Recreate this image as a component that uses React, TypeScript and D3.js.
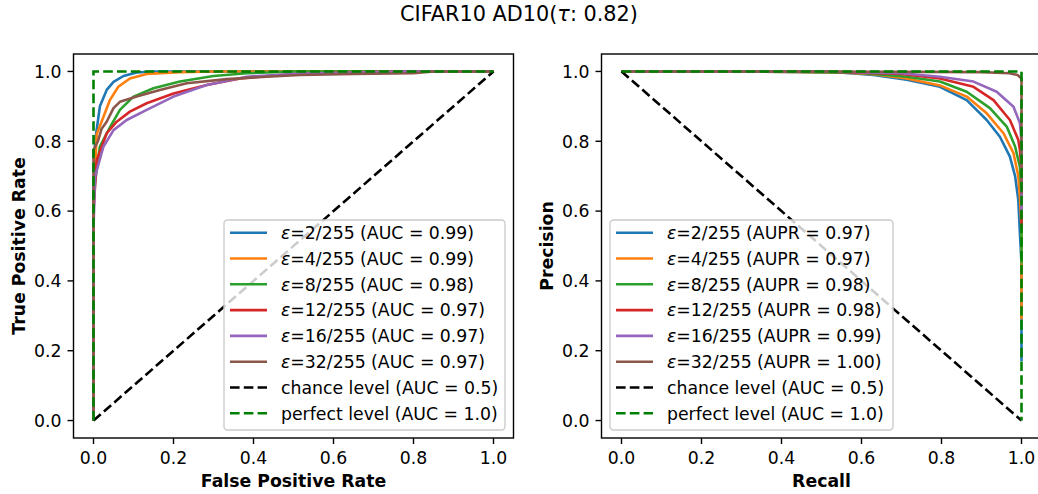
import React from "react";
import * as d3 from "d3";

const title = "CIFAR10 AD10(";
const titleTau = "τ";
const titleEnd = ": 0.82)";

const epsLabels = ["2/255", "4/255", "8/255", "12/255", "16/255", "32/255"];
const colors = ["#1f77b4", "#ff7f0e", "#2ca02c", "#d62728", "#9467bd", "#8c564b"];
const aucValues = ["0.99", "0.99", "0.98", "0.97", "0.97", "0.97"];
const auprValues = ["0.97", "0.97", "0.98", "0.98", "0.99", "1.00"];

const ticks = [0, 0.2, 0.4, 0.6, 0.8, 1.0];

// ROC curves
const rocFpr: number[][] = [
  [0, 0, 0.004, 0.016, 0.033, 0.05, 0.075, 0.108, 0.15, 0.3, 1],
  [0, 0, 0.008, 0.025, 0.041, 0.062, 0.091, 0.133, 0.216, 0.3, 1],
  [0, 0, 0.016, 0.041, 0.066, 0.1, 0.15, 0.216, 0.3, 0.383, 0.5, 1],
  [0, 0, 0.008, 0.033, 0.058, 0.091, 0.133, 0.2, 0.283, 0.367, 0.466, 0.6, 0.75, 1],
  [0, 0, 0.004, 0.025, 0.05, 0.083, 0.133, 0.2, 0.283, 0.383, 0.508, 0.65, 0.8, 1],
  [0, 0, 0.011, 0.02, 0.033, 0.05, 0.066, 0.108, 0.166, 0.233, 0.333, 0.433, 0.516, 0.65, 0.8, 0.85, 1],
];
const rocTpr: number[][] = [
  [0, 0.65, 0.8, 0.9, 0.947, 0.97, 0.987, 0.997, 1, 1, 1],
  [0, 0.62, 0.82, 0.87, 0.918, 0.956, 0.98, 0.993, 0.998, 1, 1],
  [0, 0.65, 0.785, 0.84, 0.89, 0.928, 0.952, 0.971, 0.987, 0.995, 1, 1],
  [0, 0.6, 0.746, 0.823, 0.856, 0.885, 0.909, 0.937, 0.961, 0.98, 0.99, 0.996, 1, 1],
  [0, 0.55, 0.7, 0.785, 0.832, 0.861, 0.89, 0.928, 0.961, 0.985, 0.993, 0.997, 1, 1],
  [0, 0.775, 0.8, 0.835, 0.856, 0.895, 0.913, 0.928, 0.947, 0.966, 0.978, 0.985, 0.99, 0.993, 0.995, 1, 1],
];

// PR curves
const prRecall: number[][] = [
  [0, 0.3, 0.545, 0.63, 0.713, 0.796, 0.863, 0.913, 0.946, 0.971, 0.984, 0.992, 0.996, 1, 1],
  [0, 0.3, 0.55, 0.63, 0.713, 0.796, 0.863, 0.913, 0.955, 0.98, 0.992, 0.996, 1, 1],
  [0, 0.4, 0.6, 0.713, 0.796, 0.863, 0.921, 0.963, 0.984, 0.996, 1, 1],
  [0, 0.5, 0.7, 0.796, 0.88, 0.93, 0.971, 0.992, 0.996, 1, 1],
  [0, 0.5, 0.7, 0.796, 0.88, 0.938, 0.98, 0.996, 1, 1],
  [0, 0.5, 0.9, 0.97, 0.99, 1, 1],
];
const prPrecision: number[][] = [
  [1, 1, 0.997, 0.99, 0.976, 0.956, 0.918, 0.861, 0.813, 0.756, 0.7, 0.632, 0.537, 0.45, 0.17],
  [1, 1, 0.997, 0.992, 0.98, 0.96, 0.928, 0.88, 0.823, 0.766, 0.7, 0.641, 0.55, 0.29],
  [1, 1, 0.996, 0.985, 0.971, 0.942, 0.895, 0.842, 0.785, 0.727, 0.65, 0.45],
  [1, 1, 0.993, 0.98, 0.956, 0.918, 0.861, 0.804, 0.775, 0.72, 0.55],
  [1, 1, 0.995, 0.985, 0.971, 0.942, 0.899, 0.852, 0.8, 0.6],
  [1, 1, 0.998, 0.995, 0.99, 0.98, 0.65],
];

const rocChanceX = [0, 1];
const rocChanceY = [0, 1];
const rocPerfectX = [0, 0, 1];
const rocPerfectY = [0, 1, 1];
const prChanceX = [0, 1];
const prChanceY = [1, 0];
const prPerfectX = [0, 1, 1];
const prPerfectY = [1, 1, 0];

const FONT = "'DejaVu Sans', sans-serif";
const FS = 17.3;
const LW = 2.6;
const DASH = "9.6,4.2";
const AXW = 1.4;

type PanelProps = {
  left: number;
  id: string;
  xs: number[][];
  ys: number[][];
  chanceX: number[];
  chanceY: number[];
  perfectX: number[];
  perfectY: number[];
  xLabel: string;
  yLabel: string;
  metric: string;
  values: string[];
  legendLeft: boolean;
};

const Panel = (p: PanelProps) => {
  const top = 54;
  const w = 440;
  const h = 384;
  const x = d3.scaleLinear().domain([-0.05, 1.05]).range([p.left, p.left + w]);
  const y = d3.scaleLinear().domain([-0.05, 1.05]).range([top + h, top]);
  const line = d3
    .line<[number, number]>()
    .x((d) => x(d[0]))
    .y((d) => y(d[1]));
  const zip = (a: number[], b: number[]) => a.map((v, i) => [v, b[i]] as [number, number]);

  const entries = [
    ...epsLabels.map((e, i) => ({
      kind: "eps",
      color: colors[i],
      dash: undefined as string | undefined,
      eps: e,
      text: ` (${p.metric} = ${p.values[i]})`,
    })),
    { kind: "txt", color: "#000000", dash: DASH, eps: "", text: "chance level (AUC = 0.5)" },
    { kind: "txt", color: "#008000", dash: DASH, eps: "", text: "perfect level (AUC = 1.0)" },
  ];
  const lgW = p.legendLeft ? 283 : 281;
  const lgH = 210;
  const lgX = p.legendLeft ? p.left + 8.5 : p.left + w - 8.5 - lgW;
  const lgY = top + h - 8 - lgH;
  const rowH = 25.8;

  return (
    <g>
      <defs>
        <clipPath id={p.id}>
          <rect x={p.left} y={top} width={w} height={h} />
        </clipPath>
      </defs>
      <g clipPath={`url(#${p.id})`}>
        {p.xs.map((xs, i) => (
          <path
            key={i}
            d={line(zip(xs, p.ys[i])) || ""}
            fill="none"
            stroke={colors[i]}
            strokeWidth={LW}
            strokeLinejoin="round"
          />
        ))}
        <path d={line(zip(p.chanceX, p.chanceY)) || ""} fill="none" stroke="#000" strokeWidth={LW} strokeDasharray={DASH} />
        <path d={line(zip(p.perfectX, p.perfectY)) || ""} fill="none" stroke="#008000" strokeWidth={LW} strokeDasharray={DASH} />
      </g>
      <rect x={p.left} y={top} width={w} height={h} fill="none" stroke="#000" strokeWidth={AXW} />
      {ticks.map((t) => (
        <g key={"x" + t}>
          <line x1={x(t)} x2={x(t)} y1={top + h} y2={top + h + 6} stroke="#000" strokeWidth={AXW} />
          <text x={x(t)} y={top + h + 26} textAnchor="middle" fontSize={FS} fontFamily={FONT}>
            {t.toFixed(1)}
          </text>
        </g>
      ))}
      {ticks.map((t) => (
        <g key={"y" + t}>
          <line x1={p.left} x2={p.left - 6} y1={y(t)} y2={y(t)} stroke="#000" strokeWidth={AXW} />
          <text x={p.left - 12} y={y(t)} dy="0.36em" textAnchor="end" fontSize={FS} fontFamily={FONT}>
            {t.toFixed(1)}
          </text>
        </g>
      ))}
      <text x={p.left + w / 2} y={top + h + 49} textAnchor="middle" fontSize={FS} fontWeight="bold" fontFamily={FONT}>
        {p.xLabel}
      </text>
      <text
        transform={`translate(${p.left - 49},${top + h / 2}) rotate(-90)`}
        textAnchor="middle"
        fontSize={FS}
        fontWeight="bold"
        fontFamily={FONT}
      >
        {p.yLabel}
      </text>
      <g>
        <rect x={lgX} y={lgY} width={lgW} height={lgH} rx={3.5} fill="#fff" fillOpacity={0.8} stroke="#cccccc" strokeWidth={1.4} />
        {entries.map((e, i) => {
          const cy = lgY + 12.7 + i * rowH;
          return (
            <g key={i}>
              <line x1={lgX + 6} x2={lgX + 43} y1={cy} y2={cy} stroke={e.color} strokeWidth={LW} strokeDasharray={e.dash} />
              <text x={lgX + 57} y={cy} dy="0.36em" fontSize={FS} fontFamily={FONT}>
                {e.kind === "eps" ? (
                  <>
                    <tspan fontStyle="italic">ε</tspan>
                    <tspan>{"=" + e.eps + e.text}</tspan>
                  </>
                ) : (
                  e.text
                )}
              </text>
            </g>
          );
        })}
      </g>
    </g>
  );
};

export default function App() {
  return (
    <svg
      width={1038}
      height={494}
      style={{ position: "absolute", left: 0, top: 0, background: "#fff" }}
      xmlns="http://www.w3.org/2000/svg"
    >
      <rect x={0} y={0} width={1038} height={494} fill="#fff" />
      <text x={519} y={21} textAnchor="middle" fontSize={20.8} fontFamily={FONT}>
        {title}
        <tspan fontStyle="italic">{titleTau}</tspan>
        {titleEnd}
      </text>
      <Panel
        left={73.5}
        id="clipL"
        xs={rocFpr}
        ys={rocTpr}
        chanceX={rocChanceX}
        chanceY={rocChanceY}
        perfectX={rocPerfectX}
        perfectY={rocPerfectY}
        xLabel="False Positive Rate"
        yLabel="True Positive Rate"
        metric="AUC"
        values={aucValues}
        legendLeft={false}
      />
      <Panel
        left={601.5}
        id="clipR"
        xs={prRecall}
        ys={prPrecision}
        chanceX={prChanceX}
        chanceY={prChanceY}
        perfectX={prPerfectX}
        perfectY={prPerfectY}
        xLabel="Recall"
        yLabel="Precision"
        metric="AUPR"
        values={auprValues}
        legendLeft={true}
      />
    </svg>
  );
}
